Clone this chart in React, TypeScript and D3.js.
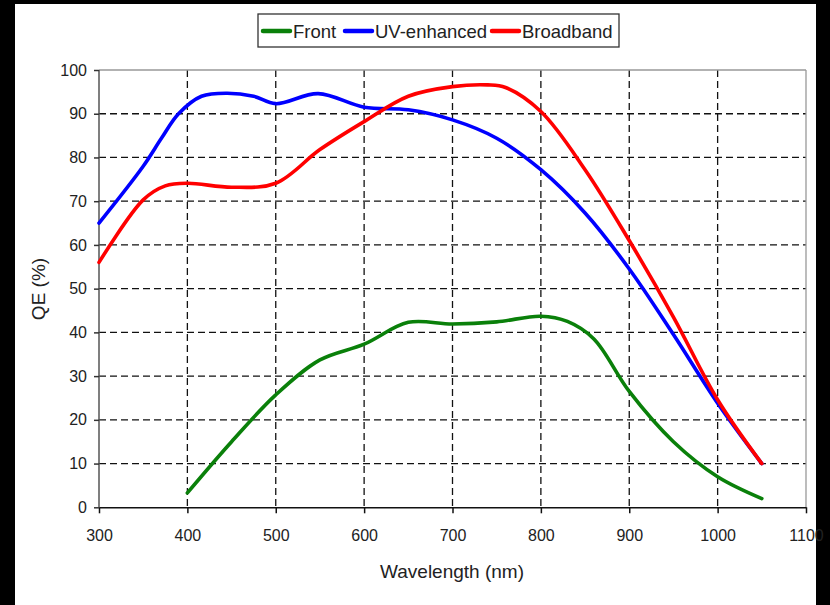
import React, { useEffect, useRef } from 'react';
import * as d3 from 'd3';

// wavelengths (nm) and QE (%)
const frontNm = [400, 450, 500, 550, 600, 650, 700, 750, 800, 830, 860, 900, 950, 1000, 1050];
const frontQe = [3.3, 15, 25.7, 33.7, 37.3, 42.3, 41.9, 42.4, 43.7, 42.5, 38.5, 26.5, 15, 7, 2];

const uvNm = [300, 350, 371, 390, 416, 445, 475, 500, 548, 600, 650, 700, 750, 800, 850, 900, 950, 1000, 1050];
const uvQe = [65, 78, 84.5, 90, 94, 94.7, 94, 92.3, 94.6, 91.5, 90.9, 88.6, 84.4, 77.2, 67.3, 54.5, 39.5, 23.8, 10];

const bbNm = [300, 350, 375, 400, 450, 500, 550, 600, 650, 700, 740, 760, 800, 850, 900, 950, 1000, 1050];
const bbQe = [56, 70.3, 73.5, 74.1, 73.2, 74.1, 81.8, 88.2, 94, 96.2, 96.6, 96, 90.5, 77.2, 61, 43.5, 24.6, 10];

const seriesNames = ['Front', 'UV-enhanced', 'Broadband'];
const seriesColors = ['#0a800a', '#0000ff', '#ff0000'];

const xTicks = [300, 400, 500, 600, 700, 800, 900, 1000, 1100];
const yTicks = [0, 10, 20, 30, 40, 50, 60, 70, 80, 90, 100];

const App = () => {
  const svgRef = useRef<SVGSVGElement>(null);

  useEffect(() => {
    const svg = d3.select(svgRef.current);
    svg.selectAll('*').remove();

    const W = 830, H = 605;
    const left = 99, right = 806, top = 70, bottom = 507.3;
    const font = "'Liberation Sans', Arial, sans-serif";

    // black frame around the white page
    svg.append('rect').attr('width', W).attr('height', H).attr('fill', '#000');
    svg.append('rect').attr('x', 15).attr('y', 4).attr('width', 801).attr('height', 601).attr('fill', '#fff');

    const x = d3.scaleLinear().domain([300, 1100]).range([left, right]);
    const y = d3.scaleLinear().domain([0, 100]).range([bottom, top]);

    const g = svg.append('g');

    // dashed grid
    g.selectAll('.vgrid')
      .data(xTicks.filter(t => t > 300 && t < 1100))
      .enter().append('line')
      .attr('x1', d => x(d)).attr('x2', d => x(d))
      .attr('y1', top).attr('y2', bottom)
      .attr('stroke', '#111').attr('stroke-width', 1.3)
      .attr('stroke-dasharray', '7,4');
    g.selectAll('.hgrid')
      .data(yTicks.filter(t => t > 0 && t < 100))
      .enter().append('line')
      .attr('x1', left).attr('x2', right)
      .attr('y1', d => y(d)).attr('y2', d => y(d))
      .attr('stroke', '#111').attr('stroke-width', 1.3)
      .attr('stroke-dasharray', '7,4');

    // frame
    g.append('line').attr('x1', left).attr('x2', right).attr('y1', top).attr('y2', top)
      .attr('stroke', '#999').attr('stroke-width', 1.3);
    g.append('line').attr('x1', right).attr('x2', right).attr('y1', top).attr('y2', bottom)
      .attr('stroke', '#999').attr('stroke-width', 1.3);
    g.append('line').attr('x1', left).attr('x2', left).attr('y1', top).attr('y2', bottom)
      .attr('stroke', '#555').attr('stroke-width', 1.5);

    // axes
    const xAxis = g.append('g')
      .attr('transform', `translate(0,${bottom})`)
      .call(d3.axisBottom(x).tickValues(xTicks).tickFormat(d3.format('d')).tickSize(6).tickPadding(16).tickSizeOuter(0));
    xAxis.select('.domain').attr('stroke', '#111').attr('stroke-width', 1.6);
    xAxis.selectAll('line').attr('stroke', '#111').attr('stroke-width', 1.5);
    xAxis.selectAll('text').attr('font-family', font).attr('font-size', 16).attr('fill', '#222');

    const yAxis = g.append('g')
      .attr('transform', `translate(${left},0)`)
      .call(d3.axisLeft(y).tickValues(yTicks).tickFormat(d3.format('d')).tickSize(5).tickPadding(7).tickSizeOuter(0));
    yAxis.select('.domain').remove();
    yAxis.selectAll('line').attr('stroke', '#333').attr('stroke-width', 1.5);
    yAxis.selectAll('text').attr('font-family', font).attr('font-size', 16).attr('fill', '#222');

    // curves
    const line = d3.line<[number, number]>()
      .x(d => x(d[0]))
      .y(d => y(d[1]))
      .curve(d3.curveCatmullRom.alpha(0.5));

    const series = [
      d3.zip(frontNm, frontQe),
      d3.zip(uvNm, uvQe),
      d3.zip(bbNm, bbQe),
    ];

    g.selectAll('.series')
      .data(series)
      .enter().append('path')
      .attr('d', d => line(d as [number, number][]))
      .attr('fill', 'none')
      .attr('stroke', (d, i) => seriesColors[i])
      .attr('stroke-width', 3.6)
      .attr('stroke-linecap', 'round')
      .attr('stroke-linejoin', 'round');

    // axis titles
    svg.append('text')
      .attr('x', 452).attr('y', 578)
      .attr('text-anchor', 'middle')
      .attr('font-family', font).attr('font-size', 19).attr('fill', '#222')
      .text('Wavelength (nm)');
    svg.append('text')
      .attr('transform', 'translate(45,289) rotate(-90)')
      .attr('text-anchor', 'middle')
      .attr('font-family', font).attr('font-size', 19).attr('fill', '#222')
      .text('QE (%)');

    // legend
    const legend = svg.append('g');
    legend.append('rect')
      .attr('x', 258).attr('y', 14).attr('width', 361).attr('height', 33)
      .attr('fill', '#fff').attr('stroke', '#333').attr('stroke-width', 1.3);
    const itemX = [263, 345, 492];
    seriesNames.forEach((name, i) => {
      legend.append('line')
        .attr('x1', itemX[i]).attr('x2', itemX[i] + 27)
        .attr('y1', 31).attr('y2', 31)
        .attr('stroke', seriesColors[i]).attr('stroke-width', 4.5)
        .attr('stroke-linecap', 'round');
      legend.append('text')
        .attr('x', itemX[i] + 30).attr('y', 37.5)
        .attr('font-family', font).attr('font-size', 18.5).attr('fill', '#222')
        .text(name);
    });
  }, []);

  return (
    <svg
      ref={svgRef}
      width={830}
      height={605}
      style={{ position: 'absolute', left: 0, top: 0, display: 'block' }}
      aria-label="QE versus wavelength"
    />
  );
};

export default App;
